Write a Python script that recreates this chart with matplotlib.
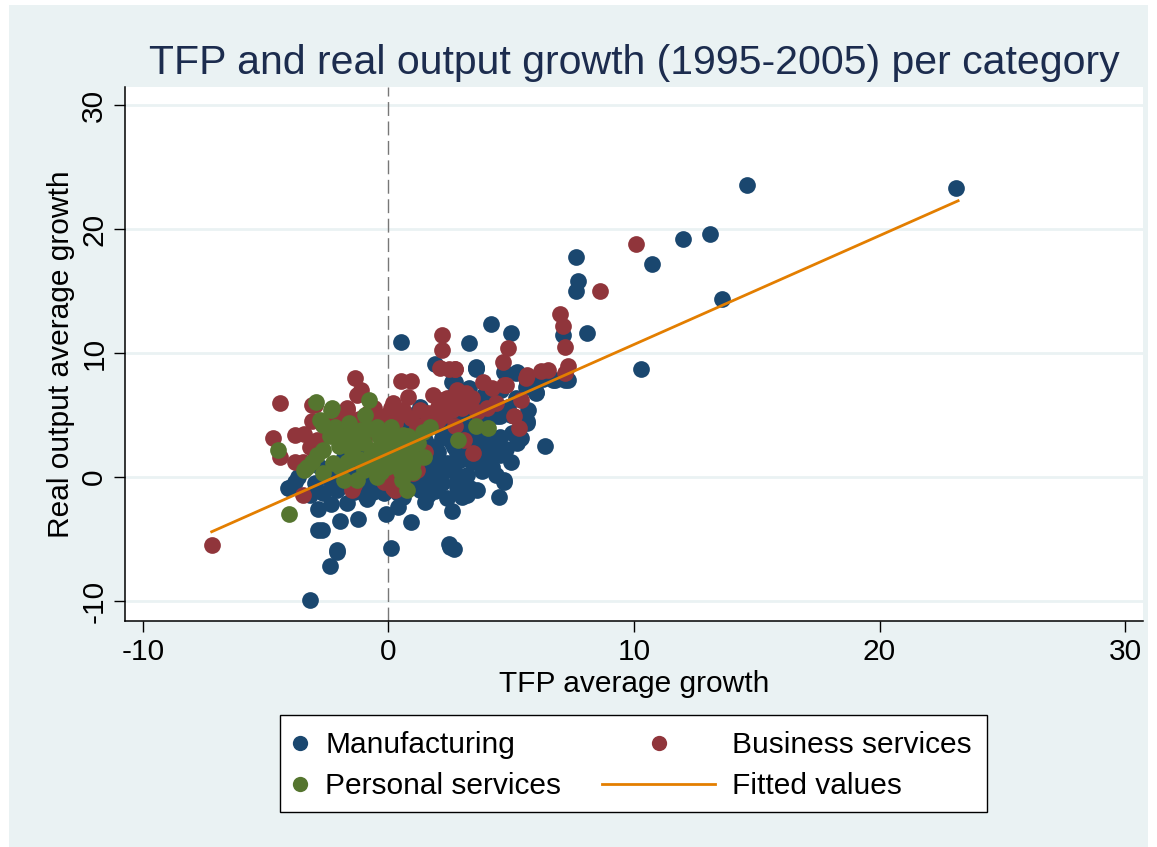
import numpy as np
import matplotlib
matplotlib.use("Agg")
import matplotlib.pyplot as plt
from matplotlib.patches import Rectangle
from matplotlib.lines import Line2D

plt.rcParams['font.family'] = ['Liberation Sans', 'DejaVu Sans']
plt.rcParams['axes.unicode_minus'] = False

# data (TFP growth, real output growth)
mfg_pts = [
    (14.6, 23.6), (23.1, 23.3), (13.1, 19.6), (12.0, 19.2), (10.75, 17.2), (7.65, 17.8),
    (7.7, 15.8), (7.65, 15.0), (13.6, 14.4), (8.07, 11.6), (10.3, 8.7), (6.36, 2.5),
    (4.16, 12.4), (0.5, 10.9), (3.26, 10.8), (5.0, 11.6), (7.1, 11.5),
    (0.1, -5.7), (2.5, -5.6), (2.65, -5.8), (-2.1, -6.0), (-2.4, -7.2), (-3.2, -9.9),
    (-2.85, -4.25), (-2.85, -2.55), (-1.96, -3.5), (-1.26, -3.4), (-0.12, -2.95), (0.9, -3.6),
    (-2.7, -4.25), (0.4, -2.4), (2.6, -2.7), (1.6, -1.4), (-2.36, -2.2), (-1.67, -2.1),
    (-0.86, -1.75), (-0.2, -1.3), (4.7, -0.4), (4.5, -1.6), (2.45, -5.4), (3.34, -0.85),
    (3.0, -1.6), (2.4, -1.7), (-4.07, -0.85), (-3.8, -0.4), (-3.18, -1.4), (-2.08, -5.9),
    (-2.08, -1.0), (-0.94, -1.4), (3.2, -1.4), (-4.1, -0.9), (-3.7, 0.0), (-3.0, 2.05),
    (3.55, 8.8), (4.7, 8.5), (5.2, 8.4), (6.8, 7.85), (7.2, 7.85), (6.0, 6.8), (5.6, 7.3),
    (4.3, 6.2), (4.85, 5.7), (4.56, 4.9), (5.66, 4.5), (3.87, 3.25), (4.56, 3.25), (5.25, 2.75),
    (3.34, 2.2), (4.0, 2.2), (4.56, 1.8), (3.87, 1.55), (2.8, 1.95), (2.65, 0.6), (2.93, 1.4),
    (4.7, -0.2), (2.8, -0.8), (1.9, 9.1), (2.6, 7.7), (2.65, 6.6), (1.3, 5.7), (2.0, 1.15),
    (2.4, 0.6), (1.7, -0.2), (1.3, -1.0), (2.8, -0.2), (0.37, -1.3), (-0.12, -0.8), (-0.65, -1.2),
    (-1.4, -1.2), (-2.0, -0.8), (-2.5, 0.0), (-2.65, -1.3), (-1.8, 1.6), (0.2, 1.15), (1.2, 2.2),
    (2.6, 2.75), (2.65, 4.6), (-1.0, -0.45), (5.25, 8.5), (5.66, 7.7), (6.0, 6.9), (5.66, 4.4),
    (5.05, 3.6), (4.15, 1.8), (3.75, 2.45), (2.65, 2.4), (2.4, 1.15), (1.83, 0.35), (1.3, -0.4),
    (0.37, -0.8), (-0.2, -1.0), (2.93, 6.2), (3.6, 6.2), (4.15, 5.7), (4.44, 4.9), (3.87, 3.6),
    (3.06, 3.6), (1.83, 2.45), (1.0, 1.65), (2.73, 7.7), (3.55, 8.7), (6.7, 7.85), (7.3, 7.85),
    (3.55, 8.9), (-1.5, 0.5), (-0.5, 0.3), (0.5, 0.2), (1.5, 3.0), (0.8, 4.5), (3.0, 5.0),
    (4.0, 4.5), (5.0, 5.0), (3.5, 3.0), (2.2, 3.8), (-1.0, 2.0), (0.0, 3.5), (1.0, 0.0),
    (3.2, 0.2), (4.2, 0.8),
    (0.8, 2.8), (1.2, 1.0), (1.6, 0.6), (2.0, 2.0), (2.2, 3.2), (2.5, 4.0), (2.9, 4.4),
    (3.3, 4.0), (3.6, 4.8), (4.0, 3.8), (4.3, 2.8), (4.8, 2.3), (5.4, 3.2), (5.7, 5.4),
    (5.2, 6.4), (4.6, 7.0), (3.9, 6.6), (3.3, 7.2), (3.0, 2.6), (3.4, 1.2), (3.8, 0.5),
    (2.2, -0.5), (1.9, -1.1), (0.6, -1.6), (0.0, -0.3), (-0.5, -0.6), (-1.6, -0.3),
    (-2.3, -0.6), (-3.0, -0.5), (-2.8, 0.8), (-2.2, 0.4), (1.4, 4.2), (0.5, 3.6), (1.0, 5.0),
    (5.9, 7.6), (6.3, 7.9), (5.0, 1.2), (4.4, 0.2), (1.5, -2.0), (3.6, -1.0),
]
bus_pts = [
    (10.1, 18.8), (8.6, 15.0), (7.0, 13.2), (7.1, 12.2), (7.2, 10.5), (7.3, 9.0), (7.2, 8.4),
    (6.5, 8.65), (5.66, 8.25), (4.85, 10.4), (4.65, 9.3), (2.2, 11.5), (2.2, 10.3), (2.45, 8.7),
    (2.7, 8.7), (0.5, 7.8), (0.9, 7.8), (0.8, 6.5), (-1.35, 8.0), (-1.27, 6.6), (-4.4, 6.0),
    (-4.7, 3.2), (-4.4, 1.65), (-3.1, 5.85), (-3.1, 4.5), (-3.46, 3.5), (-2.5, 3.4), (-3.5, 1.25),
    (-3.5, -1.4), (-3.0, 5.85), (-1.67, 5.4), (-0.85, 5.15), (-1.47, -0.8), (0.2, -0.85),
    (-0.2, -0.4), (1.0, 0.35), (2.1, 8.8), (3.87, 7.7), (3.46, 1.95), (3.06, 3.0), (-1.67, 5.6),
    (-0.73, 5.2), (-0.04, 5.0), (0.6, 5.4), (1.3, 5.4), (2.0, 5.7), (0.28, 4.4), (1.18, 4.1),
    (-2.65, 4.2), (-2.24, 3.4), (-1.4, 4.05), (-0.45, 4.6), (-1.4, -0.6), (0.15, -0.05),
    (1.18, 0.6), (1.6, 4.6), (2.1, 6.2), (4.7, 7.45), (2.8, 7.05), (3.14, 6.8), (2.8, 6.0),
    (3.34, 5.85), (4.0, 5.6), (5.1, 4.9), (5.38, 6.2), (5.3, 4.0), (2.73, 4.1), (2.73, 8.7),
    (-7.2, -5.5), (-1.47, -1.0), (0.28, -1.0), (4.77, 7.45), (-2.0, 4.8), (-0.2, 3.8),
    (0.6, 2.8), (1.5, 2.0), (-1.0, 3.0),
    (-2.3, 4.4), (-1.9, 4.9), (-1.2, 4.7), (-0.6, 5.6), (0.1, 5.6), (0.4, 4.9), (0.9, 4.8),
    (1.6, 5.2), (2.3, 5.0), (2.6, 5.4), (3.0, 5.6), (3.6, 5.3), (2.4, 6.4), (1.8, 6.6),
    (2.9, 6.6), (3.4, 6.4), (-0.3, 4.2), (-1.8, 4.0), (-2.9, 3.0), (-3.8, 3.4), (-3.8, 1.2),
    (-3.2, 2.4), (4.4, 6.0), (4.2, 7.2), (5.6, 8.0), (6.2, 8.6), (-1.1, 7.0), (0.2, 6.0),
    (1.2, 3.6), (2.0, 4.6),
]
pers_pts = [
    (-2.97, 6.1), (-0.8, 6.25), (-2.3, 5.6), (-0.94, 5.0), (-4.5, 2.2), (-4.07, -3.0),
    (-3.46, 0.6), (-3.1, 1.25), (-2.65, 2.2), (-2.65, 4.2), (-2.16, 4.05), (-2.65, 0.35),
    (-2.24, 1.15), (-1.83, -0.2), (0.77, -1.0), (0.57, -0.2), (1.0, 1.15), (1.43, 1.6),
    (1.39, 3.65), (1.7, 4.05), (2.85, 3.0), (3.55, 4.15), (4.07, 3.95), (0.6, 3.4),
    (-0.45, 4.05), (0.1, 4.05), (-1.55, 3.65), (-1.96, 2.75), (-1.14, 3.0), (-0.33, 2.2),
    (0.37, 1.95), (-0.86, 1.4), (-1.4, 1.65), (-1.96, 0.85), (-1.0, 0.6), (-0.04, 0.85),
    (-0.45, 0.0), (-1.27, -0.2), (-2.36, 5.4), (-2.0, 2.5), (-1.8, 3.2), (-1.5, 2.0),
    (-1.3, 3.6), (-1.2, 1.5), (-1.0, 2.8), (-0.9, 0.8), (-0.8, 3.9), (-0.6, 2.2), (-0.5, 1.2),
    (-0.4, 3.3), (-0.3, 0.4), (-0.2, 2.6), (0.0, 1.8), (0.1, 3.0), (0.3, 0.9), (0.4, 2.3),
    (0.6, 1.5), (0.8, 3.3), (1.0, 0.4),
    (-1.7, 1.2), (-1.4, 2.6), (-0.7, 1.8), (-0.2, 1.4), (0.2, 2.6), (0.5, 0.4), (0.9, 2.2),
    (-1.1, 3.8), (-2.4, 3.3), (-2.9, 1.8), (-0.1, 3.6), (1.2, 2.8), (-2.8, 4.6), (-1.6, 4.4),
    (-3.3, 0.8),
]
fit_x = [-7.2, 23.2]
fit_y = [-4.4, 22.3]

x_ticks = [-10, 0, 10, 20, 30]
y_ticks = [-10, 0, 10, 20, 30]

navy = '#1A476F'
maroon = '#90353B'
green = '#55752F'
orange = '#E37E00'
bg = '#EAF2F3'

W, H = 1157, 847
fig = plt.figure(figsize=(W / 100, H / 100), dpi=100, facecolor='white')

def fx(px):
    return px / W

def fy(py):
    return 1 - py / H

# graph region background
fig.add_artist(Rectangle((fx(9), 0), fx(1148) - fx(9), fy(5), transform=fig.transFigure,
                         facecolor=bg, edgecolor='none', zorder=-10))

ax = fig.add_axes([fx(125), fy(621), fx(1143) - fx(125), fy(87) - fy(621)])
ax.set_facecolor('white')
ax.set_xlim(-10.73, 30.73)
ax.set_ylim(-11.6, 31.48)

for sp in ['top', 'right']:
    ax.spines[sp].set_visible(False)
for sp in ['left', 'bottom']:
    ax.spines[sp].set_linewidth(1.1)
    ax.spines[sp].set_color('black')

ax.set_xticks(x_ticks)
ax.set_yticks(y_ticks)
ax.tick_params(axis='both', length=8, width=1.0, labelsize=21.5, pad=4)
for lab in ax.get_yticklabels():
    lab.set_rotation(90)
    lab.set_va('center')
for yv in y_ticks:
    ax.axhline(yv, color=bg, lw=2.0, zorder=0)
ax.axvline(0, color='#777777', lw=1.0, ls=(0, (10, 4)), zorder=0.5)

mx, my = zip(*mfg_pts)
bx, by = zip(*bus_pts)
px_, py_ = zip(*pers_pts)
ax.scatter(mx, my, s=145, color=navy, linewidths=0, zorder=2)
ax.scatter(bx, by, s=145, color=maroon, linewidths=0, zorder=3)
ax.scatter(px_, py_, s=145, color=green, linewidths=0, zorder=4)
ax.plot(fit_x, fit_y, color=orange, lw=2.0, zorder=5)

ax.set_xlabel('TFP average growth', fontsize=21.5, labelpad=3)
ax.set_ylabel('Real output average growth', fontsize=21.5, labelpad=4)

fig.text(fx(634), fy(74), 'TFP and real output growth (1995-2005) per category',
         ha='center', va='baseline', fontsize=29.5, color='#1C2C4E')

# legend drawn by hand to follow the Stata layout
fig.add_artist(Rectangle((fx(280), fy(812)), fx(987) - fx(280), fy(715) - fy(812),
                         transform=fig.transFigure, facecolor='white', edgecolor='black',
                         lw=1.0, zorder=10))
legend_rows = [
    (300, 743, 'marker', navy, 325, 'Manufacturing'),
    (659, 743, 'marker', maroon, 732, 'Business services'),
    (300, 784, 'marker', green, 325, 'Personal services'),
    (None, 784, 'line', orange, 732, 'Fitted values'),
]
for mxp, myp, kind, col, tx, label in legend_rows:
    if kind == 'marker':
        fig.add_artist(Line2D([fx(mxp)], [fy(myp)], marker='o', markersize=11, color=col,
                              markeredgewidth=0, linestyle='none', transform=fig.transFigure,
                              zorder=11))
    else:
        fig.add_artist(Line2D([fx(602), fx(715)], [fy(myp), fy(myp)], color=col, lw=2.0,
                              transform=fig.transFigure, zorder=11))
    fig.text(fx(tx), fy(myp) - 0.002, label, ha='left', va='center', fontsize=21.5, zorder=12)

fig.savefig('out.png', dpi=100, facecolor='white')
